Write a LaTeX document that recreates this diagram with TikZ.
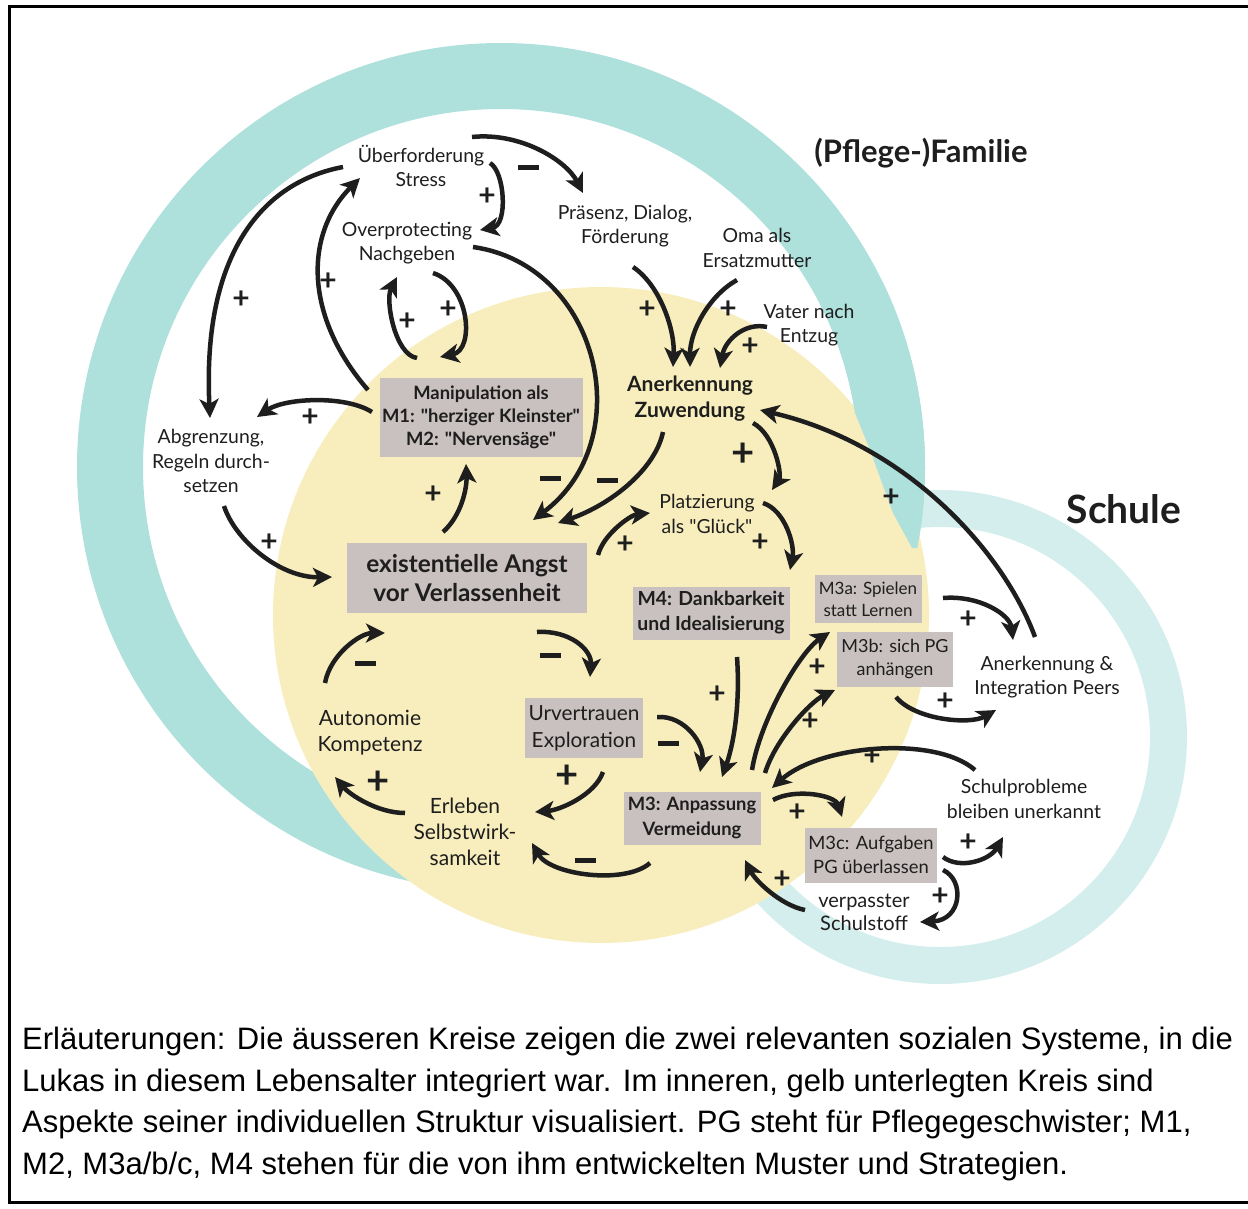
\documentclass[tikz,border=0pt]{standalone}
\usepackage{fontspec}
\setmainfont{Lato}[Ligatures=TeXOff]
\newfontfamily\capfont{Liberation Sans}
\usetikzlibrary{arrows.meta,calc}

\definecolor{famteal}{HTML}{AEE0DC}
\definecolor{schteal}{HTML}{D3EEEC}
\definecolor{innerylw}{HTML}{F8EEBD}
\definecolor{boxgrey}{HTML}{C9C1BF}
\definecolor{ink}{HTML}{1E1E1E}

\begin{document}
\begin{tikzpicture}[x=1pt,y=-1pt,
  lbl/.style={align=center, text=ink, inner sep=0pt, font=\fontsize{19.4}{24.5}\selectfont},
  gbox/.style={align=center, text=ink, inner sep=0pt, fill=boxgrey},
  pl/.style={text=ink, inner sep=0pt, font=\fontsize{30}{30}\bfseries},
  bigpl/.style={text=ink, inner sep=0pt, font=\fontsize{40}{40}\bfseries},
  mn/.style={fill=ink, inner sep=0pt, minimum width=21pt, minimum height=5pt},
  arr/.style={draw=ink, line width=4.5pt, -{Stealth[length=19pt,width=19pt,inset=5pt]}},
  captext/.style={anchor=base west, inner sep=0pt, text=black, font=\capfont\fontsize{31}{41}\selectfont}
]
\useasboundingbox (0,0) rectangle (1248,1208);

% outer frame, open on the right
\draw[line width=3pt] (1250,6) -- (9,6) -- (9,1202) -- (1250,1202);

% social systems and the inner circle
\draw[schteal, line width=37pt] (940,737) circle[radius=228.5];
\draw[famteal, line width=66pt] (501,467) circle[radius=391];
\fill[innerylw] (601,615) circle[radius=328];
\begin{scope}
  \clip (830,280) -- (1000,280) -- (1000,548) -- (912,548) -- (893,513)
        -- (870,450) -- (855,413) -- (840,380) -- cycle;
  \draw[famteal, line width=66pt] (501,467) circle[radius=391];
\end{scope}

% system titles
\node[anchor=base, inner sep=0pt, text=ink, font=\fontsize{31}{36}\bfseries] (famtitle) at (921,162) {(Pflege-)Familie};
\node[anchor=base, inner sep=0pt, text=ink, font=\fontsize{39}{44}\bfseries] (schtitle) at (1124,523) {Schule};

% factors
\node[lbl] (ueb) at (421,166) {Überforderung\\Stress};
\node[lbl] (ovp) at (407,243) {Overprotecting\\Nachgeben};
\node[lbl] (pra) at (625,226) {Präsenz, Dialog,\\Förderung};
\node[lbl] (oma) at (757,248) {Oma als\\Ersatzmutter};
\node[lbl] (vat) at (809,325) {Vater nach\\Entzug};
\node[lbl, font=\fontsize{21}{26}\bfseries] (anz) at (690,399) {Anerkennung\\Zuwendung};
\node[gbox, font=\fontsize{18.4}{23}\bfseries, minimum width=203pt, minimum height=79pt] (man) at (481,417)
  {Manipulation als\\M1: "herziger Kleinster"\\M2: "Nervensäge"};
\node[lbl] (abg) at (211,461) {Abgrenzung,\\Regeln durch-\\setzen};
\node[gbox, font=\fontsize{24.4}{29}\bfseries, minimum width=240pt, minimum height=70pt] (ang) at (467,578)
  {existentielle Angst\\vor Verlassenheit};
\node[lbl] (pla) at (707,514) {Platzierung\\als "Glück"};
\node[gbox, font=\fontsize{19.4}{25}\bfseries, minimum width=157pt, minimum height=53pt] (m4) at (711,613)
  {M4: Dankbarkeit\\und Idealisierung};
\node[gbox, font=\fontsize{17}{22}\selectfont, minimum width=107pt, minimum height=48pt] (m3a) at (868,599)
  {M3a: Spielen\\statt Lernen};
\node[gbox, font=\fontsize{18}{23}\selectfont, minimum width=116pt, minimum height=55pt] (m3b) at (895,659)
  {M3b: sich PG\\anhängen};
\node[lbl] (anp) at (1047,677) {Anerkennung \&\\Integration Peers};
\node[lbl, font=\fontsize{21}{26}\selectfont] (aut) at (370,733) {Autonomie\\Kompetenz};
\node[gbox, font=\fontsize{20.8}{27}\selectfont, minimum width=118pt, minimum height=60pt] (urv) at (584,728)
  {Urvertrauen\\Exploration};
\node[lbl, font=\fontsize{21}{26}\selectfont] (erl) at (465,832) {Erleben\\Selbstwirk-\\samkeit};
\node[gbox, font=\fontsize{18.4}{25}\bfseries, minimum width=137pt, minimum height=53pt] (m3) at (692,818)
  {M3: Anpassung\\Vermeidung};
\node[lbl] (sch) at (1024,799) {Schulprobleme\\bleiben unerkannt};
\node[gbox, font=\fontsize{18.4}{24}\selectfont, minimum width=132pt, minimum height=55pt] (m3c) at (871,855)
  {M3c: Aufgaben\\PG überlassen};
\node[lbl, font=\fontsize{20}{23}\selectfont] (ver) at (864,912) {verpasster\\Schulstoff};

% causal links
\draw[arr] ($(man)+(-113,-27)$) .. controls +(-65,-75) and +(-55,55) .. ($(ueb)+(-61,12)$);
\draw[arr] ($(ueb)+(-78,1)$) .. controls +(-80,15) and +(-8,-165) .. ($(abg)+(-1,-43)$);
\draw[arr] ($(ovp)+(26,30)$) .. controls +(37,12) and +(35,-7) .. ($(man)+(-41,-60)$);
\draw[arr] ($(man)+(-64,-59)$) .. controls +(-22,-3) and +(-12,23) .. ($(ovp)+(-10,34)$);
\draw[arr] ($(ueb)+(69,-3)$) .. controls +(15,9) and +(28,-5) .. ($(ovp)+(73,-13)$);
\draw[arr] ($(ueb)+(51,-29)$) .. controls +(48,-5) and +(-17,-33) .. ($(pra)+(-42,-33)$);
\draw[arr] ($(ovp)+(66,4)$) .. controls +(127,18) and +(107,-80) .. ($(ang)+(66,-58)$);
\draw[arr] ($(anz)+(-27,33)$) .. controls +(-8,38) and +(52,-18) .. ($(ang)+(91,-55)$);
\draw[arr] ($(man)+(-109,-5)$) .. controls +(-27,-17) and +(28,-19) .. ($(abg)+(46,-44)$);
\draw[arr] ($(ang)+(-24,-46)$) .. controls +(19,-17) and +(1,23) .. ($(man)+(-15,47)$);
\draw[arr] ($(abg)+(13,45)$) .. controls +(11,34) and +(-52,1) .. ($(ang)+(-135,-1)$);
\draw[arr] ($(pra)+(8,41)$) .. controls +(27,18) and +(2,-37) .. ($(anz)+(-17,-32)$);
\draw[arr] ($(oma)+(-20,32)$) .. controls +(-27,15) and +(0,-37) .. ($(anz)+(0,-32)$);
\draw[arr] ($(vat)+(-42,2)$) .. controls +(-22,-5) and +(5,-28) .. ($(anz)+(30,-31)$);
\draw[arr] ($(anz)+(63,24)$) .. controls +(22,12) and +(10,-15) .. ($(pla)+(65,-24)$);
\draw[arr] ($(ang)+(131,-23)$) .. controls +(5,-20) and +(-20,2) .. ($(pla)+(-57,-1)$);
\draw[arr] ($(pla)+(56,-11)$) .. controls +(22,7) and +(5,-25) .. ($(m4)+(79,-43)$);
\draw[arr] ($(ang)+(70,54)$) .. controls +(33,-2) and +(2,-27) .. ($(urv)+(6,-51)$);
\draw[arr] ($(urv)+(73,-11)$) .. controls +(28,-2) and +(5,-27) .. ($(m3)+(8,-46)$);
\draw[arr] ($(m4)+(26,44)$) .. controls +(3,43) and +(13,-37) .. ($(m3)+(30,-41)$);
\draw[arr] ($(m3)+(60,-48)$) .. controls +(8,-50) and +(-30,20) .. ($(m3a)+(-38,33)$);
\draw[arr] ($(m3)+(73,-45)$) .. controls +(10,-33) and +(-25,12) .. ($(m3b)+(-60,31)$);
\draw[arr] ($(sch)+(-49,-29)$) .. controls +(-40,-35) and +(48,-43) .. ($(m3)+(80,-30)$);
\draw[arr] ($(m3)+(81,-18)$) .. controls +(22,-12) and +(-7,-22) .. ($(m3c)+(-29,-38)$);
\draw[arr] ($(ver)+(-59,-2)$) .. controls +(-25,-5) and +(10,20) .. ($(m3)+(53,42)$);
\draw[arr] ($(m3c)+(72,2)$) .. controls +(17,13) and +(-13,23) .. ($(sch)+(-21,38)$);
\draw[arr] ($(m3c)+(72,15)$) .. controls +(22,10) and +(42,-2) .. ($(ver)+(56,10)$);
\draw[arr] ($(m3a)+(75,-1)$) .. controls +(37,-3) and +(-3,-25) .. ($(anp)+(-34,-37)$);
\draw[arr] ($(m3b)+(1,38)$) .. controls +(19,23) and +(-26,15) .. ($(anp)+(-51,33)$);
\draw[arr] ($(anp)+(-12,-40)$) .. controls +(-30,-82) and +(150,35) .. ($(anz)+(70,11)$);
\draw[arr] ($(m3)+(-42,45)$) .. controls +(-25,22) and +(18,32) .. ($(erl)+(67,11)$);
\draw[arr] ($(urv)+(19,44)$) .. controls +(-8,23) and +(25,-2) .. ($(erl)+(70,-20)$);
\draw[arr] ($(erl)+(-60,-19)$) .. controls +(-27,0) and +(15,18) .. ($(aut)+(-35,44)$);
\draw[arr] ($(aut)+(-45,-50)$) .. controls +(5,-28) and +(-25,0) .. ($(ang)+(-82,55)$);

% polarity signs
\foreach \n/\x/\y in {1/328/282, 2/241/300, 3/448/310, 4/407/322, 5/487/197, 6/310/418,
  7/433/495, 8/269/543, 9/647/310, 10/728/310, 11/750/347, 12/625/545, 13/760/543,
  14/717/695, 15/817/668, 16/810/722, 17/872/757, 18/797/813, 19/782/880, 20/968/843,
  21/940/897, 22/968/620, 23/945/702, 24/891/498}
  \node[pl] (plus\n) at (\x,\y) {+};
\foreach \n/\x/\y in {1/743/455, 2/567/777, 3/378/783}
  \node[bigpl] (bigplus\n) at (\x,\y) {+};
\foreach \n/\x/\y in {1/528/167, 2/550/478, 3/607/480, 4/550/655, 5/668/743, 6/585/860, 7/365/663}
  \node[mn] (minus\n) at (\x,\y) {};

% explanation
\node[captext] (cap1) at (22,1049) {Erläuterungen: Die äusseren Kreise zeigen die zwei relevanten sozialen Systeme, in die};
\node[captext] (cap2) at (22,1091) {Lukas in diesem Lebensalter integriert war. Im inneren, gelb unterlegten Kreis sind};
\node[captext] (cap3) at (22,1132) {Aspekte seiner individuellen Struktur visualisiert. PG steht für Pflegegeschwister; M1,};
\node[captext] (cap4) at (22,1174) {M2, M3a/b/c, M4 stehen für die von ihm entwickelten Muster und Strategien.};
\end{tikzpicture}
\end{document}
